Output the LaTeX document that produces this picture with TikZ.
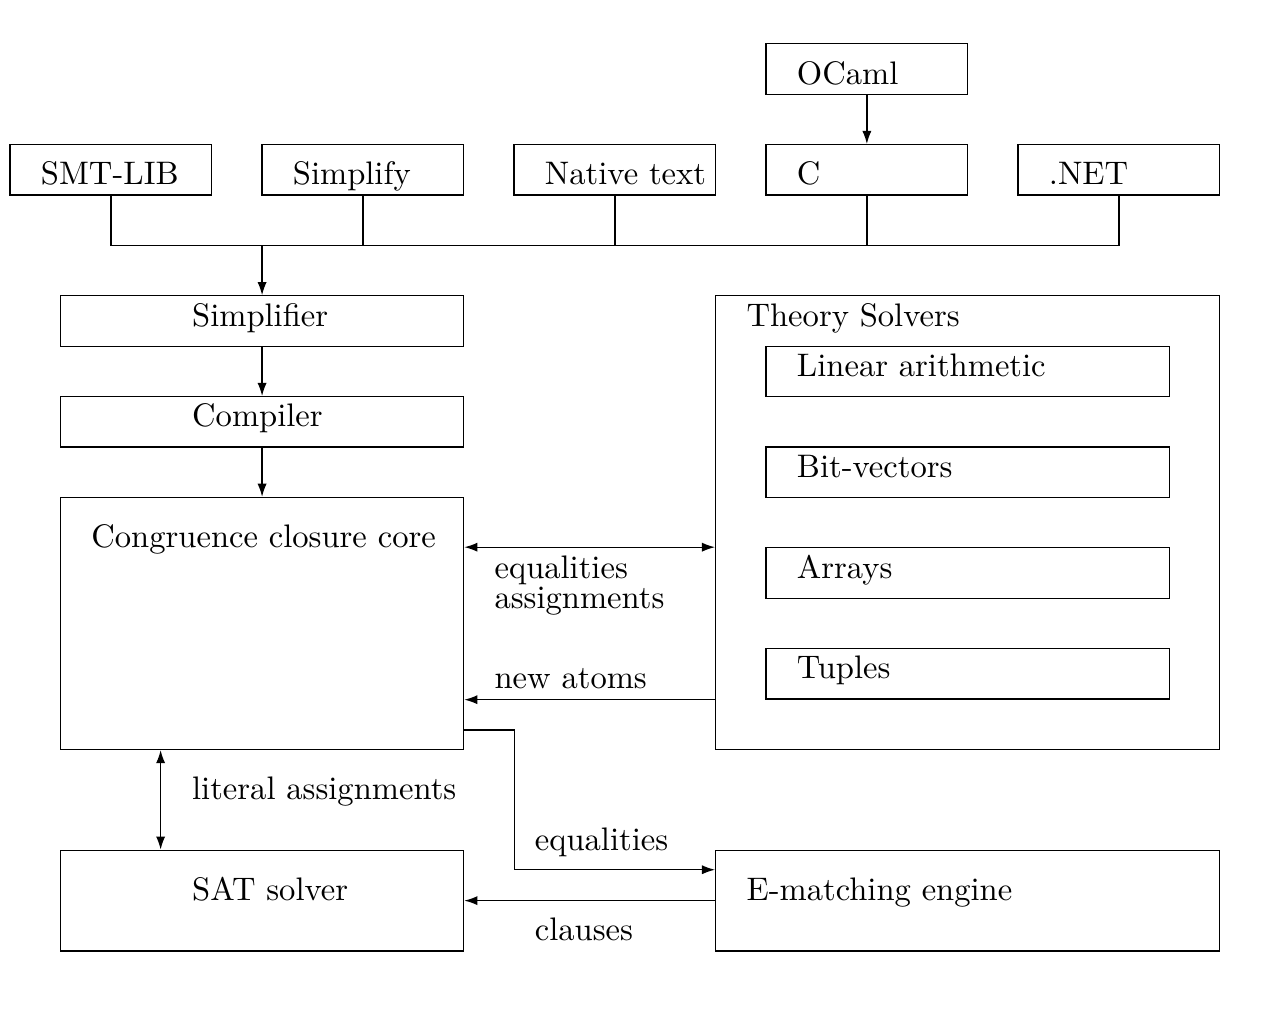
\documentclass[tikz,border=0pt]{standalone}
\usetikzlibrary{arrows.meta,calc,fit}

\begin{document}
\begin{tikzpicture}[
  x=0.5434cm, y=-0.5434cm,
  >={Latex[length=4pt,width=2.8pt]},
  modbox/.style={draw, rectangle, inner sep=0pt},
  lbl/.style={anchor=base west, inner sep=0pt},
  conn/.style={->},
  twoway/.style={<->}
]
  \useasboundingbox (-0.2,-0.87) rectangle (24.84,19.17);

  % front ends
  \node[modbox, fit={(15,0) (19,1)}] (ocaml) {};
  \node[modbox, fit={(0,2) (4,3)}] (smtlib) {};
  \node[modbox, fit={(5,2) (9,3)}] (simplify) {};
  \node[modbox, fit={(10,2) (14,3)}] (native) {};
  \node[modbox, fit={(15,2) (19,3)}] (capi) {};
  \node[modbox, fit={(20,2) (24,3)}] (dotnet) {};
  \node[lbl] (ocaml-t) at (15.6,0.8) {OCaml};
  \node[lbl] (smtlib-t) at (0.6,2.8) {SMT-LIB};
  \node[lbl] (simplify-t) at (5.6,2.8) {Simplify};
  \node[lbl] (native-t) at (10.6,2.8) {Native text};
  \node[lbl] (capi-t) at (15.6,2.8) {C};
  \node[lbl] (dotnet-t) at (20.6,2.8) {.NET};

  % pipeline
  \node[modbox, fit={(1,5) (9,6)}] (simplifier) {};
  \node[modbox, fit={(1,7) (9,8)}] (compiler) {};
  \node[modbox, fit={(1,9) (9,14)}] (core) {};
  \node[modbox, fit={(1,16) (9,18)}] (sat) {};
  \node[lbl] (simplifier-t) at (3.6,5.6) {Simplifier};
  \node[lbl] (compiler-t) at (3.6,7.6) {Compiler};
  \node[lbl] (core-t) at (1.6,10.0) {Congruence closure core};
  \node[lbl] (sat-t) at (3.6,17.0) {SAT solver};

  % theories
  \node[modbox, fit={(14,5) (24,14)}] (theory) {};
  \node[modbox, fit={(15,6) (23,7)}] (linarith) {};
  \node[modbox, fit={(15,8) (23,9)}] (bitvec) {};
  \node[modbox, fit={(15,10) (23,11)}] (arrays) {};
  \node[modbox, fit={(15,12) (23,13)}] (tuples) {};
  \node[lbl] (theory-t) at (14.6,5.6) {Theory Solvers};
  \node[lbl] (linarith-t) at (15.6,6.6) {Linear arithmetic};
  \node[lbl] (bitvec-t) at (15.6,8.6) {Bit-vectors};
  \node[lbl] (arrays-t) at (15.6,10.6) {Arrays};
  \node[lbl] (tuples-t) at (15.6,12.6) {Tuples};

  \node[modbox, fit={(14,16) (24,18)}] (ematch) {};
  \node[lbl] (ematch-t) at (14.6,17.0) {E-matching engine};

  % bus from the front ends
  \coordinate (bus) at (5,4);
  \draw (smtlib.south) |- (bus) -| (dotnet.south);
  \draw (simplify.south) -- (simplify.south |- bus);
  \draw (native.south) -- (native.south |- bus);
  \draw (capi.south) -- (capi.south |- bus);
  \draw[conn] (ocaml) -- (capi);
  \draw[conn] (bus) -- (simplifier.north);
  \draw[conn] (simplifier) -- (compiler);
  \draw[conn] (compiler) -- (core);

  \draw[twoway] ($(core.north east)+(0,1)$) coordinate (eqL) -- (eqL -| theory.west);
  \draw[conn] ($(theory.south west)+(0,-1)$) coordinate (naR) -- (naR -| core.east);
  \draw[twoway] ($(core.south west)+(2,0)$) -- ($(sat.north west)+(2,0)$);
  \draw[conn] ($(core.south east)+(0,-0.4)$) -- ++(1,0)
    |- ($(ematch.north west)+(0,0.4)$);
  \draw[conn] (ematch.west) -- (sat.east);

  \node[lbl, align=left] (eq-t) at (9.6,11.2) {equalities\\[-2.8pt]assignments};
  \node[lbl] (na-t) at (9.6,12.8) {new atoms};
  \node[lbl] (lit-t) at (3.6,15.0) {literal assignments};
  \node[lbl] (eq2-t) at (10.4,16.0) {equalities};
  \node[lbl] (cl-t) at (10.4,17.8) {clauses};
\end{tikzpicture}
\end{document}
